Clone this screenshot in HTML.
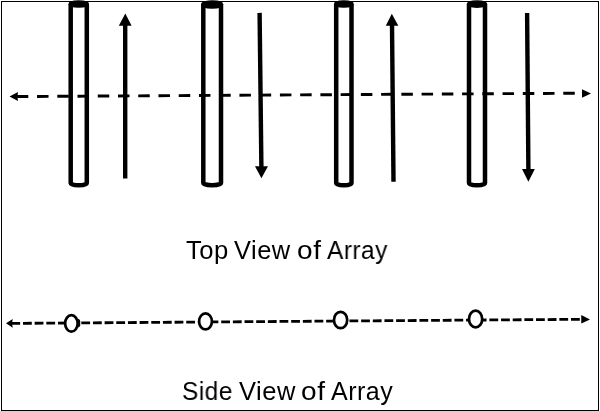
<!DOCTYPE html>
<html><head><meta charset="utf-8">
<style>
html,body{margin:0;padding:0;background:#fff;width:600px;height:411px;overflow:hidden}
svg{position:absolute;left:0;top:0}
.t{position:absolute;will-change:transform;transform-origin:0 0;font-family:"Liberation Sans",sans-serif;font-size:25px;letter-spacing:0.5px;color:#000;white-space:nowrap;line-height:1}
</style></head><body>
<svg width="600" height="411" viewBox="0 0 600 411">
<rect x="1.5" y="1.5" width="597" height="409" fill="none" stroke="#000" stroke-width="1"/>
<g fill="none" stroke="#000" stroke-width="4.5">
  <!-- cylinders -->
  <path d="M70.7,4 L70.7,183 A8.05,2.2 0 0 0 86.8,183 L86.8,4"/>
  <ellipse cx="78.75" cy="4.1" rx="8.05" ry="1.5"/>
  <path d="M203.3,4 L203.3,183 A8.85,2.2 0 0 0 221,183 L221,4"/>
  <ellipse cx="212.15" cy="4.5" rx="8.85" ry="1.9"/>
  <path d="M336.2,4 L336.2,183 A7.65,2.2 0 0 0 351.5,183 L351.5,4"/>
  <ellipse cx="343.85" cy="4.0" rx="7.65" ry="1.5"/>
  <path d="M469,4 L469,183 A8.00,2.2 0 0 0 485,183 L485,4"/>
  <ellipse cx="477" cy="4.1" rx="8" ry="1.6"/>
</g>
<g stroke="#000" stroke-width="4.4" fill="none">
  <line x1="125.2" y1="178.6" x2="125.2" y2="24"/>
  <line x1="259.6" y1="12.9" x2="261.4" y2="168"/>
  <line x1="393.5" y1="181.75" x2="392" y2="24"/>
  <line x1="527.1" y1="12.9" x2="528.4" y2="171"/>
</g>
<g fill="#000">
  <polygon points="125.3,13.4 118.8,25.8 131.6,25.8"/>
  <polygon points="261.4,178.2 255,166.3 268,166.3"/>
  <polygon points="391.8,13.8 385.8,25.8 398.3,25.8"/>
  <polygon points="528.4,181.75 522,169.1 534.8,169.1"/>
</g>
<!-- top dashed line -->
<line x1="16.8" y1="96.55" x2="582.5" y2="93.2" stroke="#000" stroke-width="2.9" stroke-dasharray="11.5 8.74"/>
<polygon points="9.5,96.5 18,92 17.4,96.5 18,101" fill="#000"/>
<polygon points="591,93.4 582,89.3 582,97.7" fill="#000"/>
<!-- bottom dashed line -->
<line x1="11.34" y1="323.4" x2="581.5" y2="319.3" stroke="#000" stroke-width="2.8" stroke-dasharray="8.8 2.86"/>
<polygon points="6,323.25 12.75,319 12,323.3 12.75,327.75" fill="#000"/>
<polygon points="590,319.4 581.25,315.1 581.25,323.6" fill="#000"/>
<g fill="#fff" stroke="#000" stroke-width="2.7">
  <ellipse cx="71.4" cy="323.4" rx="6.25" ry="8.2"/>
  <ellipse cx="205.5" cy="321.4" rx="6.4" ry="8.0"/>
  <ellipse cx="340.6" cy="320" rx="6.6" ry="8.2"/>
  <ellipse cx="475.6" cy="319" rx="6.6" ry="8.3"/>
</g>
<path d="M77,318.8 Q80.2,319 80.2,321.2 L80.2,325.2 Q80.2,327.2 77,327.6 Z" fill="#000"/>
</svg>
<div class="t" style="left:185.97px;top:238.1px;transform:scaleX(1.026)">Top</div>
<div class="t" style="left:234.1px;top:238.1px;transform:scaleX(1.017)">View</div>
<div class="t" style="left:296.7px;top:238.1px;transform:scaleX(1.12)">of</div>
<div class="t" style="left:327.0px;top:238.1px;transform:scaleX(0.977)">Array</div>
<div class="t" style="left:181.75px;top:378.6px;transform:scaleX(0.975)">Side</div>
<div class="t" style="left:238.5px;top:378.6px;transform:scaleX(1.02)">View</div>
<div class="t" style="left:300.7px;top:378.6px;transform:scaleX(1.12)">of</div>
<div class="t" style="left:331.2px;top:378.6px;transform:scaleX(1.0)">Array</div>
</body></html>
